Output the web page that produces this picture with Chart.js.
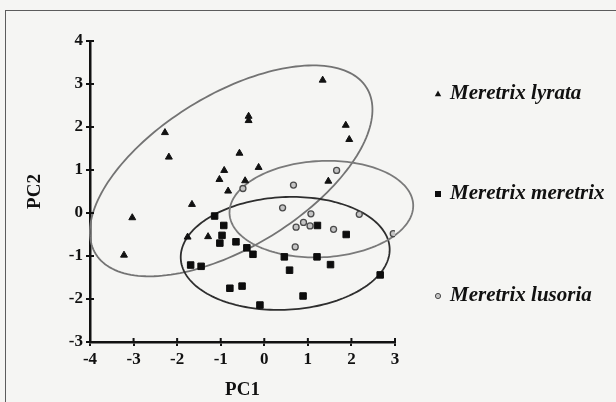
<!DOCTYPE html>
<html>
<head>
<meta charset="utf-8">
<script src="https://cdn.jsdelivr.net/npm/chart.js@4.4.1/dist/chart.umd.min.js"></script>
<style>
  html, body { margin: 0; padding: 0; background: #f5f5f3; }
  #wrap { position: relative; width: 616px; height: 402px; overflow: hidden; }
  #frame { position: absolute; left: 5px; top: 10px; width: 660px; height: 440px;
           border-left: 1.5px solid #5c5c5c; border-top: 1.5px solid #5c5c5c; }
  canvas { position: absolute; left: 0; top: 0; }
</style>
</head>
<body>
<div id="wrap"><div id="frame"></div><canvas id="chart" width="616" height="402"></canvas></div>
<script>
// PCA scores per species

const lyrataX = [-2.28, -2.19, -0.36, -0.36, -0.57, -0.92, -0.13, -1.03, -0.44, -0.83, 1.34, 1.87, 1.95, 1.47, -3.03, -3.22, -1.66, -1.76, -1.29];
const lyrataY = [1.87, 1.30, 2.25, 2.15, 1.39, 0.99, 1.06, 0.78, 0.75, 0.51, 3.09, 2.04, 1.71, 0.74, -0.11, -0.98, 0.20, -0.56, -0.55];

const meretrixX = [-1.14, -0.93, -0.97, -1.02, -0.65, -0.40, -0.26, -1.69, -1.45, -0.79, -0.51, -0.10, 1.22, 1.88, 0.46, 1.21, 0.58, 1.52, 2.66, 0.89];
const meretrixY = [-0.07, -0.29, -0.52, -0.70, -0.67, -0.81, -0.96, -1.21, -1.24, -1.75, -1.70, -2.14, -0.29, -0.50, -1.02, -1.02, -1.33, -1.20, -1.44, -1.93];

const lusoriaX = [0.67, -0.49, 0.42, 1.07, 0.90, 0.73, 1.05, 1.59, 0.71, 2.18, 2.96, 1.66];
const lusoriaY = [0.65, 0.57, 0.12, -0.02, -0.22, -0.33, -0.30, -0.38, -0.79, -0.03, -0.48, 0.99];

const speciesNames = ['Meretrix lyrata', 'Meretrix meretrix', 'Meretrix lusoria'];

// confidence ellipses (data units): centre, semi axes, tilt in degrees
const ellipseCx = [-0.76, 0.48, 1.31];
const ellipseCy = [0.98, -0.94, 0.09];
const ellipseA = [3.66, 2.40, 2.11];
const ellipseB = [1.77, 1.31, 1.12];
const ellipseTilt = [32, 3, 3];

const xTicksRange = [-4, 3];
const yTicksRange = [-3, 4];

const SERIF = "'Liberation Serif', 'Times New Roman', serif";
const ellipseColors = ['#737373', '#2e2e2e', '#7a7a7a'];

function toPoints(xs, ys) {
  return xs.map((x, i) => ({ x: x, y: ys[i] }));
}

const ellipsePlugin = {
  id: 'ellipses',
  beforeDatasetsDraw(chart) {
    const { ctx, scales: { x, y } } = chart;
    ctx.save();
    ellipseCx.forEach((cx, i) => {
      const th = ellipseTilt[i] * Math.PI / 180;
      ctx.beginPath();
      for (let k = 0; k <= 180; k++) {
        const t = k / 180 * Math.PI * 2;
        const ex = ellipseA[i] * Math.cos(t), ey = ellipseB[i] * Math.sin(t);
        const dx = cx + ex * Math.cos(th) - ey * Math.sin(th);
        const dy = ellipseCy[i] + ex * Math.sin(th) + ey * Math.cos(th);
        const px = x.getPixelForValue(dx), py = y.getPixelForValue(dy);
        if (k === 0) ctx.moveTo(px, py); else ctx.lineTo(px, py);
      }
      ctx.strokeStyle = ellipseColors[i];
      ctx.lineWidth = 1.8;
      ctx.stroke();
    });
    ctx.restore();
  }
};

// ticks in the source cross the axis, chart.js only draws the outer half
const crossTicks = {
  id: 'crossTicks',
  afterDraw(chart) {
    const { ctx, chartArea, scales: { x, y } } = chart;
    ctx.save();
    ctx.strokeStyle = '#111';
    ctx.lineWidth = 2;
    x.ticks.forEach(t => {
      const px = x.getPixelForValue(t.value);
      ctx.beginPath(); ctx.moveTo(px, chartArea.bottom); ctx.lineTo(px, chartArea.bottom - 4); ctx.stroke();
    });
    y.ticks.forEach(t => {
      const py = y.getPixelForValue(t.value);
      ctx.beginPath(); ctx.moveTo(chartArea.left, py); ctx.lineTo(chartArea.left + 4, py); ctx.stroke();
    });
    ctx.restore();
  }
};

// legend sits at uneven heights on the right, so draw it by hand
const sideLegend = {
  id: 'sideLegend',
  afterDraw(chart) {
    const ctx = chart.ctx;
    const rows = [94, 194, 296];
    ctx.save();
    chart.data.datasets.forEach((ds, i) => {
      const mx = 438, my = rows[i];
      ctx.fillStyle = ds.backgroundColor;
      ctx.strokeStyle = ds.borderColor;
      ctx.lineWidth = 1;
      ctx.beginPath();
      if (ds.pointStyle === 'triangle') {
        ctx.moveTo(mx, my - 3.5); ctx.lineTo(mx + 3.2, my + 2.2); ctx.lineTo(mx - 3.2, my + 2.2); ctx.closePath();
        ctx.fill();
      } else if (ds.pointStyle === 'rect') {
        ctx.rect(mx - 3, my - 3, 6, 6);
        ctx.fill();
      } else {
        ctx.arc(mx, my, 2.6, 0, Math.PI * 2);
        ctx.fill(); ctx.stroke();
      }
      ctx.fillStyle = '#111';
      ctx.font = 'italic bold 21px ' + SERIF;
      ctx.textBaseline = 'middle';
      ctx.textAlign = 'left';
      ctx.fillText(ds.label, 450, my);
    });
    ctx.restore();
  }
};

const tickFont = { family: SERIF, size: 17, weight: 'bold' };
const titleFont = { family: SERIF, size: 19, weight: 'bold' };

new Chart(document.getElementById('chart'), {
  type: 'scatter',
  data: {
    datasets: [
      { label: speciesNames[0], data: toPoints(lyrataX, lyrataY), pointStyle: 'triangle',
        pointRadius: 4, backgroundColor: '#111', borderColor: '#111', borderWidth: 1 },
      { label: speciesNames[1], data: toPoints(meretrixX, meretrixY), pointStyle: 'rect',
        pointRadius: 4.6, backgroundColor: '#0d0d0d', borderColor: '#0d0d0d', borderWidth: 1 },
      { label: speciesNames[2], data: toPoints(lusoriaX, lusoriaY), pointStyle: 'circle',
        pointRadius: 3, backgroundColor: '#c4c4c4', borderColor: '#4a4a4a', borderWidth: 1.3 }
    ]
  },
  options: {
    responsive: false,
    animation: false,
    layout: { padding: { left: 0, top: 41, right: 221, bottom: 0 } },
    plugins: { legend: { display: false }, tooltip: { enabled: false } },
    scales: {
      x: {
        type: 'linear', min: xTicksRange[0], max: xTicksRange[1],
        afterFit: s => { s.height = 60; },
        ticks: { stepSize: 1, color: '#111', font: tickFont, padding: 3 },
        grid: { drawOnChartArea: false, color: '#111', lineWidth: 2, tickLength: 4 },
        border: { color: '#111', width: 2.5 },
        title: { display: true, text: 'PC1', color: '#111', font: titleFont, padding: { top: 0, bottom: 1 } }
      },
      y: {
        type: 'linear', min: yTicksRange[0], max: yTicksRange[1],
        afterFit: s => { s.width = 90; },
        ticks: { stepSize: 1, color: '#111', font: tickFont, padding: 3 },
        grid: { drawOnChartArea: false, color: '#111', lineWidth: 2, tickLength: 4 },
        border: { color: '#111', width: 2.5 },
        title: { display: true, text: 'PC2', color: '#111', font: titleFont, padding: { top: 24, bottom: 0 } }
      }
    }
  },
  plugins: [ellipsePlugin, crossTicks, sideLegend]
});
</script>
</body>
</html>
